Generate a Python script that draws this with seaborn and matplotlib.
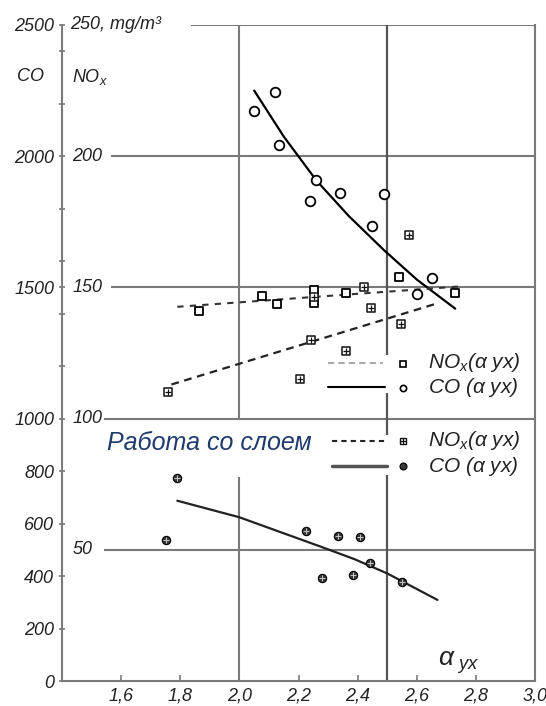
import matplotlib
matplotlib.use("Agg")
import matplotlib.pyplot as plt
import matplotlib.transforms as mtransforms
import seaborn as sns
import numpy as np
import pandas as pd

# NOx values are drawn on the CO scale (250 mg/m3 NOx == 2500 CO)
NOX_SCALE = 10

# work without layer: CO points (alpha_yx, CO)
co_x = [2.05, 2.12, 2.135, 2.26, 2.34, 2.24, 2.49, 2.45, 2.60, 2.65]
co_y = [2171, 2244, 2043, 1908, 1859, 1829, 1856, 1733, 1476, 1537]
co_fit_x = [2.05, 2.15, 2.26, 2.37, 2.49, 2.60, 2.73]
co_fit_y = [2250, 2075, 1908, 1772, 1641, 1530, 1419]

# work without layer: NOx points
nox_x = [1.863, 2.075, 2.128, 2.253, 2.253, 2.36, 2.54, 2.73]
nox_y = [141, 146.6, 143.6, 149, 144, 148, 154, 148]
nox_fit_x = [1.79, 2.75]
nox_fit_y = [142.6, 150.4]

# work with layer ("Работа со слоем"): NOx points
lnox_x = [1.758, 2.204, 2.242, 2.253, 2.359, 2.42, 2.445, 2.546, 2.574]
lnox_y = [110, 115, 130, 146.5, 125.8, 150, 142, 136, 170]
lnox_fit_x = [1.77, 2.66]
lnox_fit_y = [113, 143.6]

# work with layer: CO points
lco_x = [1.753, 1.790, 2.224, 2.278, 2.335, 2.383, 2.408, 2.442, 2.549]
lco_y = [537, 772, 573, 391, 553, 404, 548, 448, 378]
lco_fit_x = [1.79, 2.0, 2.28, 2.39, 2.50, 2.67]
lco_fit_y = [687, 624, 510, 464, 410, 309]

co_ticks = [0, 200, 400, 600, 800, 1000, 1500, 2000, 2500]
co_minor = [1200, 1400, 1600, 1800, 2200, 2400]
nox_ticks = [50, 100, 150, 200]
x_ticks = [1.6, 1.8, 2.0, 2.2, 2.4, 2.6, 2.8, 3.0]

sns.set_style("white")
plt.rcParams['font.family'] = ['Liberation Sans', 'DejaVu Sans']
plt.rcParams['mathtext.fontset'] = 'custom'
plt.rcParams['mathtext.rm'] = 'Liberation Sans:italic'
plt.rcParams['mathtext.it'] = 'Liberation Sans:italic'
plt.rcParams['mathtext.bf'] = 'Liberation Sans:bold'

grid_c = '#7a7a7a'
txt_c = '#222222'

fig = plt.figure(figsize=(5.46, 7.06), dpi=100)
ax = fig.add_axes([0.1136, 0.0354, 0.8663, 0.9292])
ax.set_xlim(1.4, 3.0)
ax.set_ylim(0, 2500)

# frame pieces and grid (drawn as in the original, with gaps)
ax.spines['top'].set_visible(False)
for s in ['left', 'bottom', 'right']:
    ax.spines[s].set_color(grid_c)
    ax.spines[s].set_linewidth(1.5)
ax.hlines(2500, 1.837, 3.0, color=grid_c, lw=1.5, zorder=1)
ax.hlines([2000, 1500], 1.566, 3.0, color=grid_c, lw=1.5, zorder=1)
ax.hlines([1000, 500], 1.542, 3.0, color=grid_c, lw=1.5, zorder=1)
for y0, y1 in [(0, 777), (1000, 2500)]:
    ax.vlines(2.0, y0, y1, color=grid_c, lw=1.5, zorder=1)
for y0, y1 in [(0, 785), (937, 1098), (1242, 2500)]:
    ax.vlines(2.5, y0, y1, color='#555555', lw=1.6, zorder=1)

# trend lines
sns.lineplot(x=co_fit_x, y=co_fit_y, ax=ax, color='black', lw=1.6,
             estimator=None, sort=True, zorder=2)
sns.lineplot(x=nox_fit_x, y=np.array(nox_fit_y) * NOX_SCALE, ax=ax,
             color='#333333', lw=1.5, linestyle=(0, (3, 3)), estimator=None, zorder=2)
sns.lineplot(x=lnox_fit_x, y=np.array(lnox_fit_y) * NOX_SCALE, ax=ax,
             color='#222222', lw=1.6, linestyle=(0, (3.5, 2.5)), estimator=None, zorder=2)
sns.lineplot(x=lco_fit_x, y=lco_fit_y, ax=ax, color='#222222', lw=1.6,
             estimator=None, sort=True, zorder=2)

# points
sns.scatterplot(x=co_x, y=co_y, ax=ax, marker='o', s=48, color='white',
                edgecolor='black', linewidth=1.3, zorder=4)
sns.scatterplot(x=nox_x, y=np.array(nox_y) * NOX_SCALE, ax=ax, marker='s', s=36,
                color='white', edgecolor='black', linewidth=1.3, zorder=4)
lnox_df = pd.DataFrame({'x': lnox_x, 'y': np.array(lnox_y) * NOX_SCALE})
sns.scatterplot(data=lnox_df, x='x', y='y', ax=ax, marker='s', s=30,
                color='white', edgecolor='#111111', linewidth=1.1, zorder=4)
sns.scatterplot(data=lnox_df, x='x', y='y', ax=ax, marker='+', s=20,
                color='#111111', linewidth=0.9, zorder=5)
lco_df = pd.DataFrame({'x': lco_x, 'y': lco_y})
sns.scatterplot(data=lco_df, x='x', y='y', ax=ax, marker='o', s=36,
                color='#3a3a3a', edgecolor='black', linewidth=0.8, zorder=4)
sns.scatterplot(data=lco_df, x='x', y='y', ax=ax, marker='+', s=14,
                color='#c8c8c8', linewidth=0.7, zorder=5)

# ticks
ax.set_xticks(x_ticks)
ax.set_xticklabels([f"{v:.1f}".replace('.', ',') for v in x_ticks],
                   fontsize=13, fontstyle='italic', color=txt_c)
ax.set_yticks(co_ticks)
ax.set_yticklabels([str(v) for v in co_ticks], fontsize=13,
                   fontstyle='italic', color=txt_c)
ax.set_yticks(co_minor, minor=True)
ax.tick_params(axis='y', which='both', direction='inout', length=5,
               color=grid_c, width=1.2, left=True, pad=3)
ax.tick_params(axis='x', which='both', direction='in', length=4,
               color=grid_c, width=1.2, bottom=True, pad=5)
ax.set_xlabel("")
ax.set_ylabel("")

# secondary NOx labels next to the spine
blend = mtransforms.blended_transform_factory(ax.transAxes, ax.transData)
for v in nox_ticks:
    ax.text(0.022, v * NOX_SCALE, str(v), transform=blend, ha='left',
            va='center', fontsize=13, fontstyle='italic', color=txt_c)
ax.text(0.017, 2500, "250, mg/m\u00b3", transform=blend, ha='left', va='center',
        fontsize=13, fontstyle='italic', color=txt_c)
ax.text(-0.066, 0.921, "CO", transform=ax.transAxes, ha='center', va='center',
        fontsize=13, fontstyle='italic', color=txt_c)
ax.text(0.059, 0.921, r"$NO_x$", transform=ax.transAxes, ha='center', va='center',
        fontsize=13, color=txt_c)
ax.text(0.795, 0.028, r"$\alpha_{\ yx}$", transform=ax.transAxes, ha='left',
        va='center', fontsize=19, color=txt_c)

# legends, drawn by hand like in the original
T = ax.transAxes
lx0, lx1, mx, tx = 0.562, 0.679, 0.721, 0.774
ax.plot([lx0, lx1], [0.485, 0.485], transform=T, color='#aaaaaa', lw=1.5,
        linestyle=(0, (3, 2)))
ax.plot([mx], [0.483], transform=T, marker='s', ms=5, mfc='white', mec='black', mew=1.2)
ax.text(tx, 0.485, r"$NO_x(\alpha\ yx)$", transform=T, ha='left', va='center',
        fontsize=15, color=txt_c)
ax.plot([lx0, lx1 + 0.004], [0.448, 0.448], transform=T, color='black', lw=1.5)
ax.plot([mx], [0.446], transform=T, marker='o', ms=4.5, mfc='white', mec='black', mew=1.2)
ax.text(tx, 0.448, r"$CO\ (\alpha\ yx)$", transform=T, ha='left', va='center',
        fontsize=15, color=txt_c)

ax.text(0.095, 0.363, "Работа со слоем", transform=T, ha='left', va='center',
        fontsize=18, fontstyle='italic', color='#1f3a6e')
ax.plot([0.571, 0.687], [0.366, 0.366], transform=T, color='#222222', lw=1.5,
        linestyle=(0, (2.5, 2)))
ax.plot([mx], [0.366], transform=T, marker='s', ms=5, mfc='white', mec='#111111', mew=1.0)
ax.plot([mx], [0.366], transform=T, marker='+', ms=4, color='#111111', mew=0.9)
ax.text(tx, 0.366, r"$NO_x(\alpha\ yx)$", transform=T, ha='left', va='center',
        fontsize=15, color=txt_c)
ax.plot([0.571, 0.687], [0.327, 0.327], transform=T, color='#555555', lw=2.5)
ax.plot([mx], [0.327], transform=T, marker='o', ms=5, mfc='#3a3a3a', mec='black', mew=0.8)
ax.text(tx, 0.327, r"$CO\ (\alpha\ yx)$", transform=T, ha='left', va='center',
        fontsize=15, color=txt_c)

fig.savefig("out.png", dpi=100)
